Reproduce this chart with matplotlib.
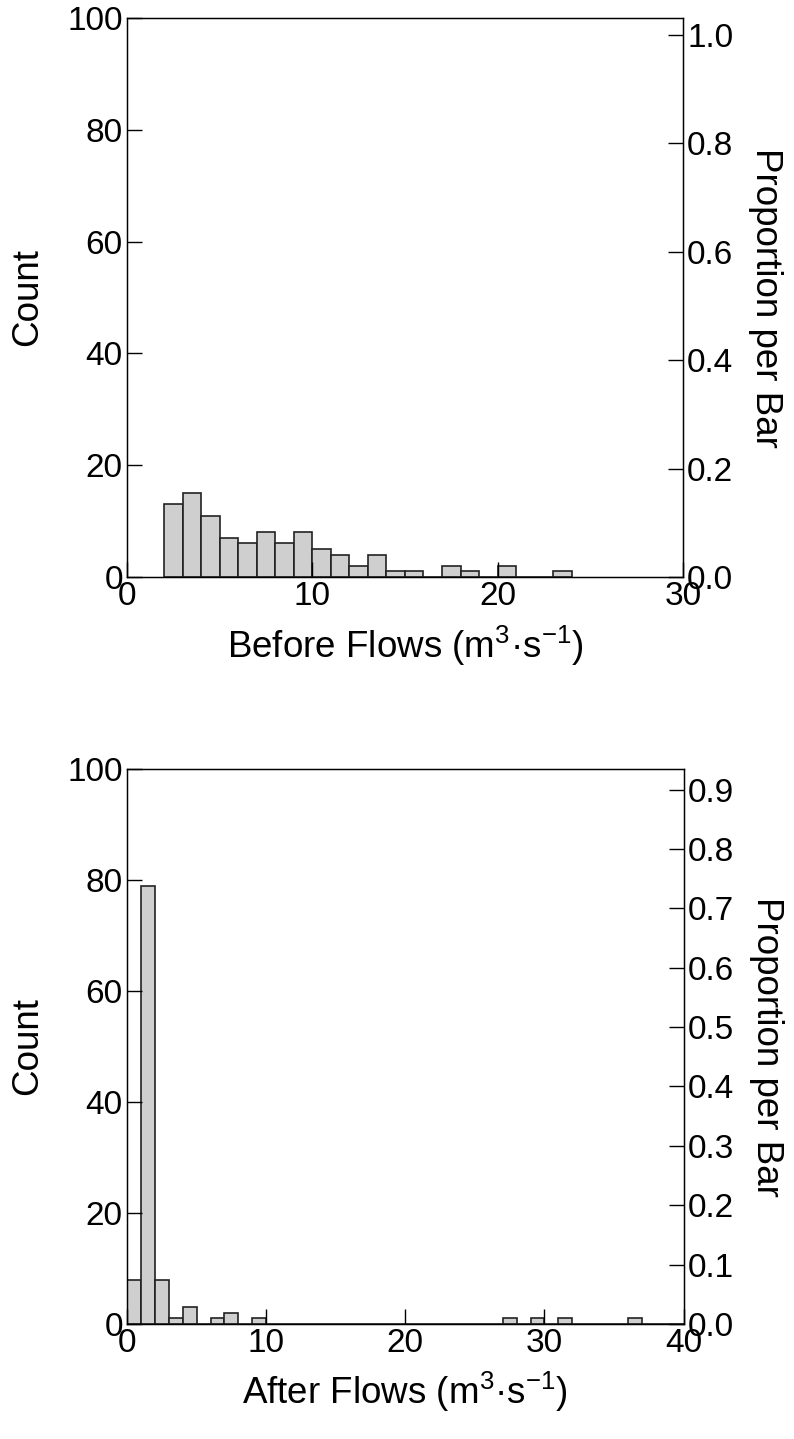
import matplotlib
matplotlib.use("Agg")
import matplotlib.pyplot as plt
import matplotlib.ticker as ticker

plt.rcParams['font.family'] = ['Liberation Sans', 'DejaVu Sans']
plt.rcParams['mathtext.fontset'] = 'custom'
plt.rcParams['mathtext.rm'] = 'Liberation Sans'
plt.rcParams['mathtext.it'] = 'Liberation Sans'

# before: bins of width 1, left edges and counts
before_lo = [2, 3, 4, 5, 6, 7, 8, 9, 10, 11, 12, 13, 14, 15, 16, 17, 18, 19, 20, 21, 22, 23]
before_counts = [13, 15, 11, 7, 6, 8, 6, 8, 5, 4, 2, 4, 1, 1, 0, 2, 1, 0, 2, 0, 0, 1]

# after: bins of width 1
after_lo = [0, 1, 2, 3, 4, 5, 6, 7, 8, 9, 27, 29, 31, 36]
after_counts = [8, 79, 8, 1, 3, 0, 1, 2, 0, 1, 1, 1, 1, 1]
after_empty = [10, 11, 12, 13, 14, 15, 16, 17, 18, 19, 20, 21, 22, 23, 24, 25, 26, 28, 30, 32, 33, 34, 35, 37, 38, 39]

FS = 24
LFS = 26.5
TICKLEN = 11


def draw(ax, lo, counts, xmax, xlabel, prop_step):
    ax.bar(lo, counts, width=1, align='edge', color='#cfcfcf', edgecolor='#222222', linewidth=1.2)
    ax.set_xlim(0, xmax)
    ax.set_ylim(0, 100)
    ax.xaxis.set_major_locator(ticker.MultipleLocator(10))
    ax.yaxis.set_major_locator(ticker.MultipleLocator(20))
    ax.tick_params(axis='both', direction='in', length=TICKLEN, width=1, labelsize=FS, pad=3)
    ax.set_ylabel("Count", fontsize=LFS, labelpad=16)
    ax.set_xlabel(xlabel, fontsize=LFS, labelpad=8)
    for s in ax.spines.values():
        s.set_linewidth(1)

    total = sum(counts)
    ax2 = ax.twinx()
    ax2.set_ylim(0, 100 / total)
    ax2.yaxis.set_major_locator(ticker.MultipleLocator(prop_step))
    ax2.yaxis.set_major_formatter(ticker.FormatStrFormatter('%.1f'))
    ax2.tick_params(axis='y', direction='in', length=TICKLEN, width=1, labelsize=FS, pad=3)
    ax2.set_ylabel("Proportion per Bar", fontsize=LFS, rotation=270, labelpad=36)
    return ax2


fig = plt.figure(figsize=(7.94, 14.39), dpi=100)
ax1 = fig.add_axes([0.160, 0.599, 0.700, 0.3885])
ax3 = fig.add_axes([0.160, 0.080, 0.701, 0.3855])

draw(ax1, before_lo, before_counts, 30, r'Before Flows (m$^{3}$·s$^{-1}$)', 0.2)
ax3.bar(after_empty, [0] * len(after_empty), width=1, align='edge', color='#cfcfcf', edgecolor='#222222', linewidth=1.2)
draw(ax3, after_lo, after_counts, 40, r'After Flows (m$^{3}$·s$^{-1}$)', 0.1)

fig.savefig("out.png", dpi=100)
